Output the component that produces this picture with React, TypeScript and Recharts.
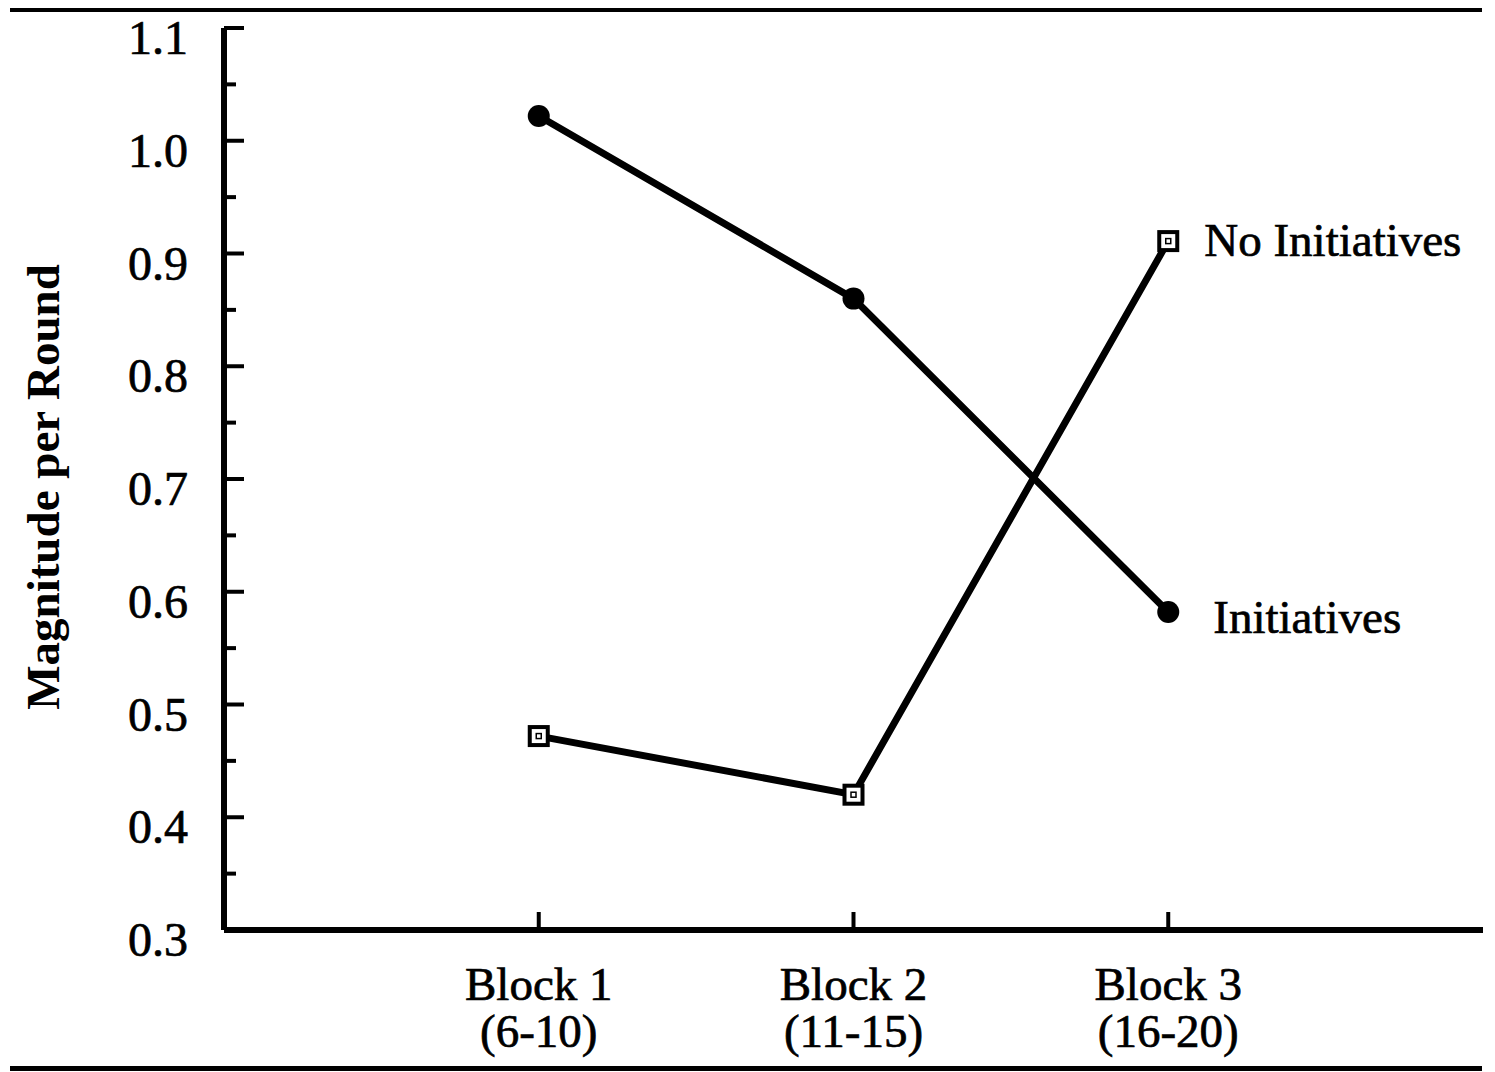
import React from 'react';
import { LineChart, Line, XAxis, YAxis, LabelList } from 'recharts';

const blocks = [1, 2, 3];
const blockNames = ['Block 1', 'Block 2', 'Block 3'];
const blockRanges = ['(6-10)', '(11-15)', '(16-20)'];
const initiatives = [1.022, 0.86, 0.582];
const noInitiatives = [0.472, 0.42, 0.911];
const yTicks = [0.3, 0.35, 0.4, 0.45, 0.5, 0.55, 0.6, 0.65, 0.7, 0.75, 0.8, 0.85, 0.9, 0.95, 1.0, 1.05, 1.1];
const seriesNames = ['Initiatives', 'No Initiatives'];
const yTitle = 'Magnitude per Round';

const data = blocks.map((b, i) => ({
  block: b,
  init: initiatives[i],
  noInit: noInitiatives[i],
}));

const FONT = '"Liberation Serif", "Times New Roman", serif';
const TXT = { fontFamily: FONT, fill: '#000', stroke: '#000', strokeWidth: 0.7 };

const YTick = (props: any) => {
  const { x, y, payload } = props;
  const v = payload.value as number;
  const major = Math.abs(v * 10 - Math.round(v * 10)) < 1e-6;
  return (
    <g>
      <line x1={x} x2={x + (major ? 20 : 12)} y1={y} y2={y} stroke="#000" strokeWidth={4} />
      {major && (
        <text x={x - 36} y={y + 26} textAnchor="end" fontSize={48} {...TXT}>
          {v.toFixed(1)}
        </text>
      )}
    </g>
  );
};

const XTick = (props: any) => {
  const { x, y, payload } = props;
  const i = blocks.indexOf(payload.value);
  return (
    <g>
      <line x1={x} x2={x} y1={y} y2={y - 18} stroke="#000" strokeWidth={4} />
      <text x={x} y={y + 70} textAnchor="middle" fontSize={47} {...TXT}>
        {blockNames[i]}
      </text>
      <text x={x} y={y + 117} textAnchor="middle" fontSize={47} {...TXT}>
        {blockRanges[i]}
      </text>
    </g>
  );
};

const CircleDot = (props: any) => {
  const { cx, cy } = props;
  return <circle key={`c-${props.index}`} cx={cx} cy={cy} r={11} fill="#000" />;
};

const SquareDot = (props: any) => {
  const { cx, cy } = props;
  return (
    <g key={`s-${props.index}`}>
      <rect x={cx - 9} y={cy - 9} width={18} height={18} fill="#fff" stroke="#000" strokeWidth={4} />
      <rect x={cx - 2.5} y={cy - 2.5} width={5} height={5} fill="#fff" stroke="#000" strokeWidth={1.5} />
    </g>
  );
};

const endLabel = (name: string, dx: number, dy: number) => (props: any) => {
  const { x, y, index } = props;
  if (index !== blocks.length - 1) return null;
  return (
    <text x={x + dx} y={y + dy} fontSize={47} textAnchor="start" {...TXT}>
      {name}
    </text>
  );
};

const TitleLabel = (props: any) => {
  const { viewBox } = props;
  const cx = 59;
  const cy = viewBox.y + viewBox.height / 2 + 8;
  return (
    <text
      x={cx}
      y={cy}
      transform={`rotate(-90 ${cx} ${cy})`}
      textAnchor="middle"
      fontSize={47}
      fontWeight="bold"
      fontFamily={FONT}
      fill="#000"
    >
      {yTitle}
    </text>
  );
};

export default function App() {
  return (
    <div style={{ position: 'absolute', left: 0, top: 0, width: 1495, height: 1072, background: '#fff' }}>
      <div style={{ position: 'absolute', left: 10, top: 8, width: 1472, height: 4, background: '#000' }} />
      <div style={{ position: 'absolute', left: 10, top: 1066, width: 1472, height: 5, background: '#000' }} />
      <LineChart
        width={1495}
        height={1072}
        data={data}
        margin={{ top: 28, right: 12, left: 0, bottom: 0 }}
      >
        <XAxis
          dataKey="block"
          type="number"
          domain={[0, 4]}
          ticks={blocks}
          height={142}
          tickSize={0}
          tickMargin={0}
          tickLine={false}
          axisLine={{ stroke: '#000', strokeWidth: 6 }}
          tick={<XTick />}
          interval={0}
        />
        <YAxis
          type="number"
          domain={[0.3, 1.1]}
          ticks={yTicks}
          width={224}
          tickSize={0}
          tickMargin={0}
          tickLine={false}
          axisLine={{ stroke: '#000', strokeWidth: 6 }}
          tick={<YTick />}
          interval={0}
          label={<TitleLabel />}
        />
        <Line
          type="linear"
          dataKey="init"
          name={seriesNames[0]}
          stroke="#000"
          strokeWidth={7}
          dot={CircleDot}
          activeDot={false}
          isAnimationActive={false}
        >
          <LabelList dataKey="init" content={endLabel(seriesNames[0], 45, 21)} />
        </Line>
        <Line
          type="linear"
          dataKey="noInit"
          name={seriesNames[1]}
          stroke="#000"
          strokeWidth={7}
          dot={SquareDot}
          activeDot={false}
          isAnimationActive={false}
        >
          <LabelList dataKey="noInit" content={endLabel(seriesNames[1], 36, 15)} />
        </Line>
      </LineChart>
    </div>
  );
}
